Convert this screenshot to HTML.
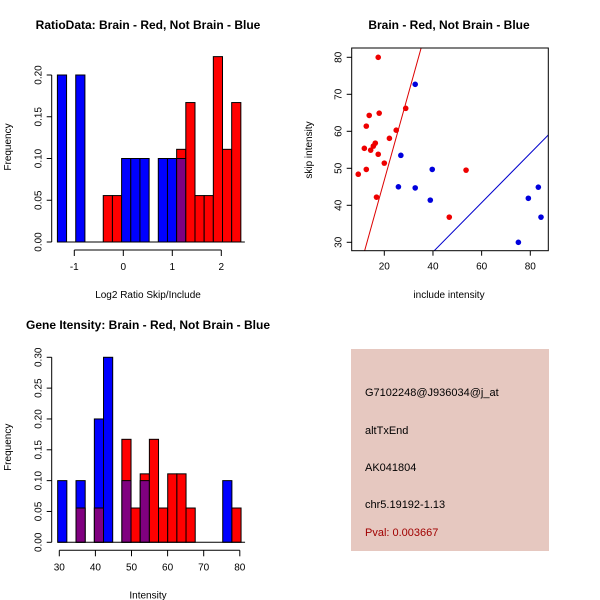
<!DOCTYPE html>
<html><head><meta charset="utf-8"><style>body{margin:0;background:#fff}svg{display:block;font-family:"Liberation Sans",sans-serif}</style></head>
<body>
<svg id="c" width="600" height="600" viewBox="0 0 600 600">
<rect x="351" y="349" width="198" height="202" fill="#e6c8c0"/>
<g font-size="11" fill="#000">
<text x="365" y="396">G7102248@J936034@j_at</text>
<text x="365" y="434">altTxEnd</text>
<text x="365" y="471">AK041804</text>
<text x="365" y="508">chr5.19192-1.13</text>
<text x="365" y="536" fill="#a00000">Pval: 0.003667</text>
</g>
</svg>
<script>
// Top-left ratio histogram (20 bins)
const ratioStart=-1.345, ratioWidth=0.1872;
const ratioRed=[0,0,0,0,0,0.0556,0.0556,0,0,0,0,0,0,0.111,0.167,0.0556,0.0556,0.222,0.111,0.167];
const ratioBlue=[0.2,0,0.2,0,0,0,0,0.1,0.1,0.1,0,0.1,0.1,0.1,0,0,0,0,0,0];
const ratioXTicks=[-1,0,1,2];
const ratioYTicks=[0,0.05,0.10,0.15,0.20];
// Bottom-left intensity histogram
const intStart=29.55, intWidth=2.54;
const intRed=[0,0,0.0556,0,0.0556,0,0,0.167,0.0556,0.111,0.167,0.0556,0.111,0.111,0.0556,0,0,0,0,0.0556];
const intBlue=[0.1,0,0.1,0,0.2,0.3,0,0.1,0,0.1,0,0,0,0,0,0,0,0,0.1,0];
const intXTicks=[30,40,50,60,70,80];
const intYTicks=[0,0.05,0.10,0.15,0.20,0.25,0.30];
// Scatter
const redX=[17.5,28.8,17.9,13.8,12.6,24.9,22.1,11.8,16.3,15.5,14.4,17.5,20,12.6,9.3,16.8,53.6,46.7];
const redY=[80,66.2,64.9,64.3,61.4,60.3,58.1,55.4,56.8,56.0,54.9,53.8,51.4,49.7,48.4,42.2,49.5,36.8];
const blueX=[32.7,26.8,39.7,25.8,32.7,38.9,75.1,79.2,83.3,84.4];
const blueY=[72.7,53.5,49.7,45,44.7,41.4,30,41.9,44.9,36.8];
const redLine=[-0.4,2.36];
const blueLine=[0.7,0.667];
const scXTicks=[20,40,60,80];
const scYTicks=[30,40,50,60,70,80];

const svg=document.getElementById('c');
const NS='http://www.w3.org/2000/svg';
function mk(t,a,p){const e=document.createElementNS(NS,t);for(const k in a)e.setAttribute(k,a[k]);(p||svg).appendChild(e);return e;}
function txt(x,y,s,a,p){const e=mk('text',Object.assign({x:x,y:y,'font-size':11,'text-anchor':'middle'},a||{}),p);e.textContent=s;return e;}

function hist(o){
  const g=mk('g',{});
  
  
  const sx=v=>o.x0+(v-o.t0)*o.kx, sy=v=>o.y0-v*o.ky;
  for(let i=0;i<o.red.length;i++){
    const a=sx(o.start+i*o.w), b=sx(o.start+(i+1)*o.w);
    const r=o.red[i], bl=o.blue[i], m=Math.min(r,bl), M=Math.max(r,bl);
    if(M>0){
      const col=r>=bl?'#ff0000':'#0000ff';
      const e=mk('rect',{x:a,y:sy(M),width:b-a,height:sy(0)-sy(M),fill:col,stroke:'#000','stroke-width':1},g);
      
      
    }
    if(m>0){
      const e=mk('rect',{x:a,y:sy(m),width:b-a,height:sy(0)-sy(m),fill:'#800080',stroke:'#000','stroke-width':1},g);
      
      
    }
  }
  const ya=mk('g',{},g);
  
  
  const axx=51.7;
  mk('line',{x1:axx,x2:axx,y1:sy(o.yt[0]),y2:sy(o.yt[o.yt.length-1]),stroke:'#000'},ya);
  o.yt.forEach(v=>{mk('line',{x1:axx-5,x2:axx,y1:sy(v),y2:sy(v),stroke:'#000'},ya);
    txt(0,0,v.toFixed(2),{transform:`translate(${axx-10},${sy(v)}) rotate(-90)`,'font-size':10},ya);});
  mk('line',{x1:sx(o.start),x2:sx(o.start+o.red.length*o.w)+4,y1:sy(0),y2:sy(0),stroke:'#000'},g);
  const xa=mk('g',{},g);
  
  
  const ay=o.y0+8;
  mk('line',{x1:sx(o.xt[0]),x2:sx(o.xt[o.xt.length-1]),y1:ay,y2:ay,stroke:'#000'},xa);
  o.xt.forEach(v=>{mk('line',{x1:sx(v),x2:sx(v),y1:ay,y2:ay+6,stroke:'#000'},xa);txt(sx(v),ay+20,String(v),{'font-size':10},xa);});
  txt(148,o.y0+56,o.xlab,{'font-size':10},g);
  txt(0,0,'Frequency',{transform:`translate(11,${o.y0-95}) rotate(-90)`,'font-size':10},g);
}
hist({name:'ratio-histogram',red:ratioRed,blue:ratioBlue,start:ratioStart,w:ratioWidth,x0:123.3,t0:0,kx:49,y0:242,ky:835,yt:ratioYTicks,xt:ratioXTicks,xlab:'Log2 Ratio Skip/Include'});
hist({name:'intensity-histogram',red:intRed,blue:intBlue,start:intStart,w:intWidth,x0:59.3,t0:30,kx:3.61,y0:542.3,ky:616.7,yt:intYTicks,xt:intXTicks,xlab:'Intensity'});

txt(148,29,'RatioData: Brain - Red, Not Brain - Blue',{'font-weight':'bold','font-size':12});
txt(148,329,'Gene Itensity: Brain - Red, Not Brain - Blue',{'font-weight':'bold','font-size':12});
txt(449,29,'Brain - Red, Not Brain - Blue',{'font-weight':'bold','font-size':12});

const sg=mk('g',{});


const L=351.7,R=548.3,T=48,B=250.7;
const px=v=>384.3+(v-20)*2.4333, py=v=>242.3-(v-30)*3.7;
const cp=mk('clipPath',{id:'cl'},sg);mk('rect',{x:L,y:T,width:R-L,height:B-T},cp);
function ln(c,col,n){const x1=6.6,x2=87.4;const e=mk('line',{x1:px(x1),x2:px(x2),y1:py(c[0]+c[1]*x1),y2:py(c[0]+c[1]*x2),stroke:col,'clip-path':'url(#cl)'},sg);

}
ln(redLine,'#dd0000','red-fit-line');ln(blueLine,'#0000cc','blue-fit-line');
redX.forEach((x,i)=>{const e=mk('circle',{cx:px(x),cy:py(redY[i]),r:2.8,fill:'#ee0000'},sg);

});
blueX.forEach((x,i)=>{const e=mk('circle',{cx:px(x),cy:py(blueY[i]),r:2.8,fill:'#0000dd'},sg);

});
mk('rect',{x:L,y:T,width:R-L,height:B-T,fill:'none',stroke:'#000'},sg);
scXTicks.forEach(v=>{mk('line',{x1:px(v),x2:px(v),y1:B,y2:B+5,stroke:'#000'},sg);txt(px(v),B+19,String(v),{'font-size':10},sg);});
scYTicks.forEach(v=>{mk('line',{x1:L-5,x2:L,y1:py(v),y2:py(v),stroke:'#000'},sg);txt(0,0,String(v),{transform:`translate(${L-10},${py(v)}) rotate(-90)`,'font-size':10},sg);});
txt(449,298,'include intensity',{'font-size':10});
txt(0,0,'skip intensity',{transform:'translate(312,150) rotate(-90)','font-size':10});
</script>
</body></html>
